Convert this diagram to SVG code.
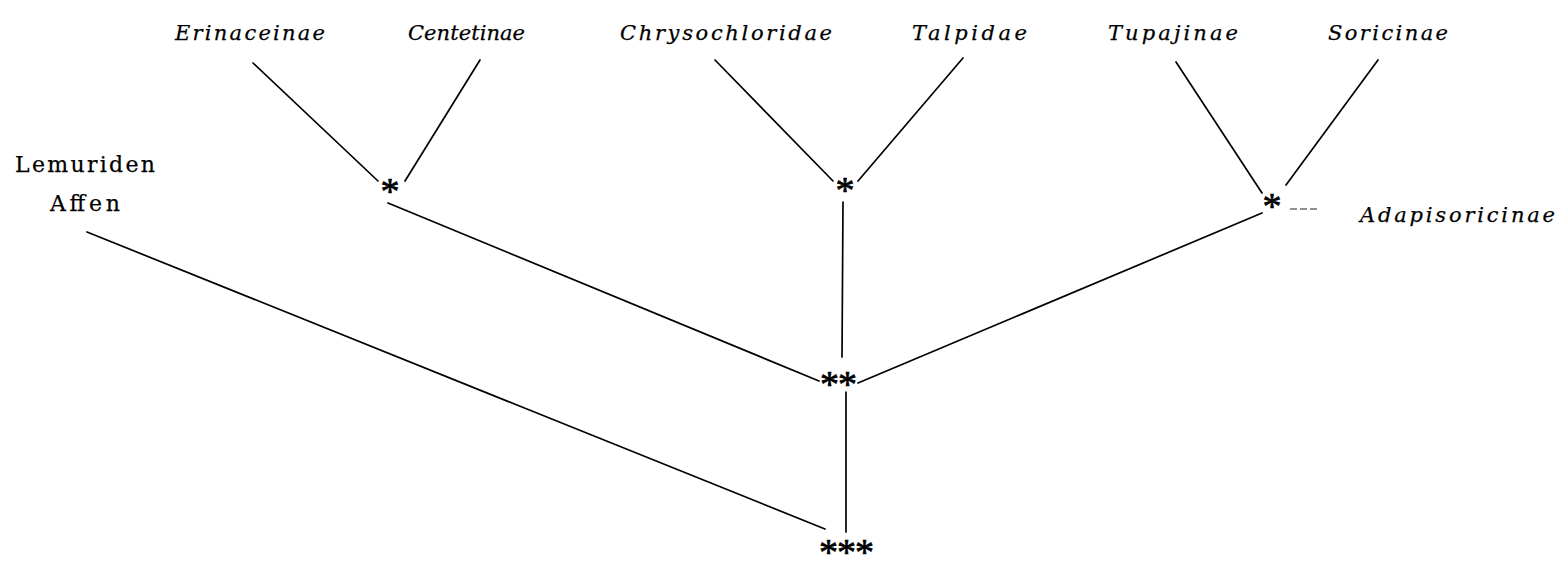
<svg xmlns="http://www.w3.org/2000/svg" width="1567" height="561" viewBox="0 0 1567 561">
  <style>
    .taxon { font-family: "DejaVu Serif", "Liberation Serif", serif; font-style: italic; font-size: 21px; fill: #000; stroke: #000; stroke-width: 0.25; }
    .group { font-family: "DejaVu Serif", "Liberation Serif", serif; font-size: 22px; fill: #000; stroke: #000; stroke-width: 0.25; }
    .star { font-family: "Liberation Serif", "Times New Roman", serif; font-size: 38px; fill: #000; stroke: #000; stroke-width: 0.7; text-anchor: middle; }
    .edge { stroke: #000; stroke-width: 1.7; fill: none; stroke-linecap: round; }
    .edge-faint { stroke: #222; stroke-width: 1.1; fill: none; stroke-dasharray: 7 3; }
  </style>
  <rect width="1567" height="561" fill="#fff"/>

  <!-- branches of the tree -->
  <g id="connectors">
    <line class="edge" x1="253" y1="63" x2="378" y2="181"/>
    <line class="edge" x1="480" y1="60" x2="405" y2="181"/>
    <line class="edge" x1="388" y1="203" x2="819" y2="381"/>
    <line class="edge" x1="715" y1="60" x2="833" y2="181"/>
    <line class="edge" x1="963" y1="58" x2="858" y2="181"/>
    <line class="edge" x1="843" y1="202" x2="842" y2="357"/>
    <line class="edge" x1="1176" y1="62" x2="1262" y2="193"/>
    <line class="edge" x1="1378" y1="60" x2="1286" y2="185"/>
    <line class="edge" x1="858" y1="383" x2="1262" y2="213"/>
    <line class="edge-faint" x1="1290" y1="209" x2="1318" y2="209"/>
    <line class="edge" x1="87" y1="232" x2="825" y2="529"/>
    <line class="edge" x1="846" y1="392" x2="846" y2="532"/>
  </g>

  <!-- leaf taxa -->
  <g id="erinaceinae"><text class="taxon" x="175" y="40" textLength="150" lengthAdjust="spacing">Erinaceinae</text></g>
  <g id="centetinae"><text class="taxon" x="408" y="40" textLength="117" lengthAdjust="spacing">Centetinae</text></g>
  <g id="chrysochloridae"><text class="taxon" x="620" y="40" textLength="212" lengthAdjust="spacing">Chrysochloridae</text></g>
  <g id="talpidae"><text class="taxon" x="912" y="40" textLength="115" lengthAdjust="spacing">Talpidae</text></g>
  <g id="tupajinae"><text class="taxon" x="1108" y="40" textLength="130" lengthAdjust="spacing">Tupajinae</text></g>
  <g id="soricinae"><text class="taxon" x="1328" y="40" textLength="120" lengthAdjust="spacing">Soricinae</text></g>
  <g id="adapisoricinae"><text class="taxon" x="1360" y="222" textLength="195" lengthAdjust="spacing">Adapisoricinae</text></g>
  <g id="lemuriden-affen">
    <text class="group" x="15" y="172" textLength="140" lengthAdjust="spacing">Lemuriden</text>
    <text class="group" x="50" y="211" textLength="70" lengthAdjust="spacing">Affen</text>
  </g>

  <!-- branching points -->
  <g id="node-erinaceinae-centetinae"><text class="star" x="390" y="204">*</text></g>
  <g id="node-chrysochloridae-talpidae"><text class="star" x="845" y="203">*</text></g>
  <g id="node-tupajinae-soricinae"><text class="star" x="1272" y="219">*</text></g>
  <g id="node-insectivora"><text class="star" x="838" y="397" letter-spacing="-1">**</text></g>
  <g id="node-root"><text class="star" x="846" y="565" letter-spacing="-1">***</text></g>
</svg>
